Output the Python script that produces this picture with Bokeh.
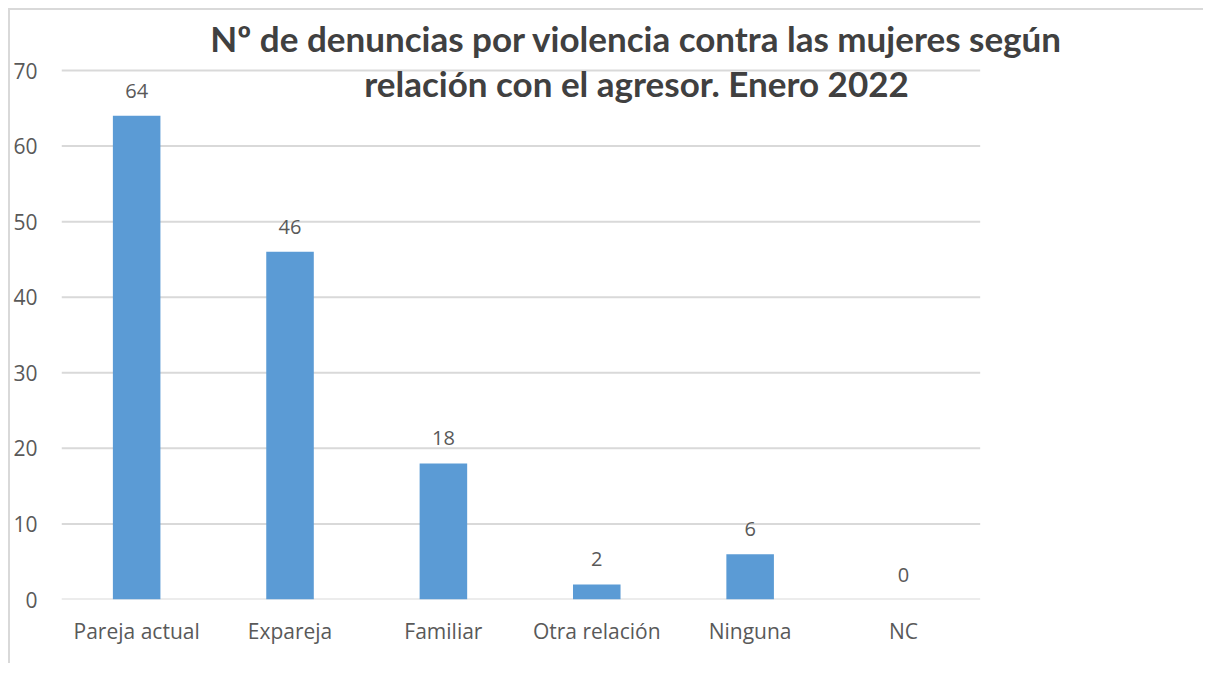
from bokeh.plotting import figure
from bokeh.models import Range1d, Label, ColumnDataSource, FixedTicker
from bokeh.core.properties import value
from bokeh.embed import file_html
from bokeh.resources import INLINE

categories = ["Pareja actual", "Expareja", "Familiar", "Otra relación", "Ninguna", "NC"]
counts = [64, 46, 18, 2, 6, 0]
y_ticks = [0, 10, 20, 30, 40, 50, 60, 70]
title_lines = ["Nº de denuncias por violencia contra las mujeres según",
               "relación con el agresor. Enero 2022"]

BAR = "#5b9bd5"
GRID = "#d9d9d9"
TXT = "#595959"

n = len(categories)
xpos = list(range(1, n + 1))
x_start = 0.51

p = figure(x_range=Range1d(x_start, x_start + 7.459), y_range=Range1d(0, 77.94), width=1195, height=655,
           output_backend="svg", toolbar_location=None,
           min_border_left=50, min_border_right=0, min_border_top=0, min_border_bottom=66)
p.styles = {"border-top": "2px solid #d9d9d9", "border-left": "2px solid #d9d9d9",
            "margin-left": "8px", "margin-top": "8px"}
p.outline_line_color = None
p.xgrid.visible = False
p.ygrid.visible = False

# horizontal gridlines limited to the category area
p.segment(x0=[x_start] * len(y_ticks), x1=[n + 0.5] * len(y_ticks), y0=y_ticks, y1=y_ticks,
          line_color=GRID, line_width=2)

src = ColumnDataSource(dict(x=xpos, top=counts, lab=[str(v) for v in counts]))
p.vbar(x="x", top="top", width=0.31, source=src, color=BAR, line_color=None)
p.text(x="x", y="top", text="lab", source=src, text_align="center", text_baseline="alphabetic",
       y_offset=-25, text_font=value("Open Sans"), text_font_size="20px", text_color=TXT)

p.yaxis.ticker = FixedTicker(ticks=y_ticks)
p.xaxis.ticker = FixedTicker(ticks=xpos)
p.xaxis.major_label_overrides = {x: c for x, c in zip(xpos, categories)}

for ax in (p.xaxis[0], p.yaxis[0]):
    ax.major_tick_line_color = None
    ax.minor_tick_line_color = None
    ax.axis_line_color = None
    ax.major_label_text_font = "Open Sans"
    ax.major_label_text_font_size = "21px"
    ax.major_label_text_color = TXT
p.yaxis.major_label_standoff = 18
p.xaxis.major_label_standoff = 11

for t, yv in zip(title_lines, [74.35, 68.35]):
    p.add_layout(Label(x=4.259, y=yv, text=t, text_align="center", text_baseline="alphabetic",
                       text_font="Lato", text_font_style="bold", text_font_size="35px",
                       text_color="#404040"))

open("out.html", "w").write(file_html(p, INLINE))
